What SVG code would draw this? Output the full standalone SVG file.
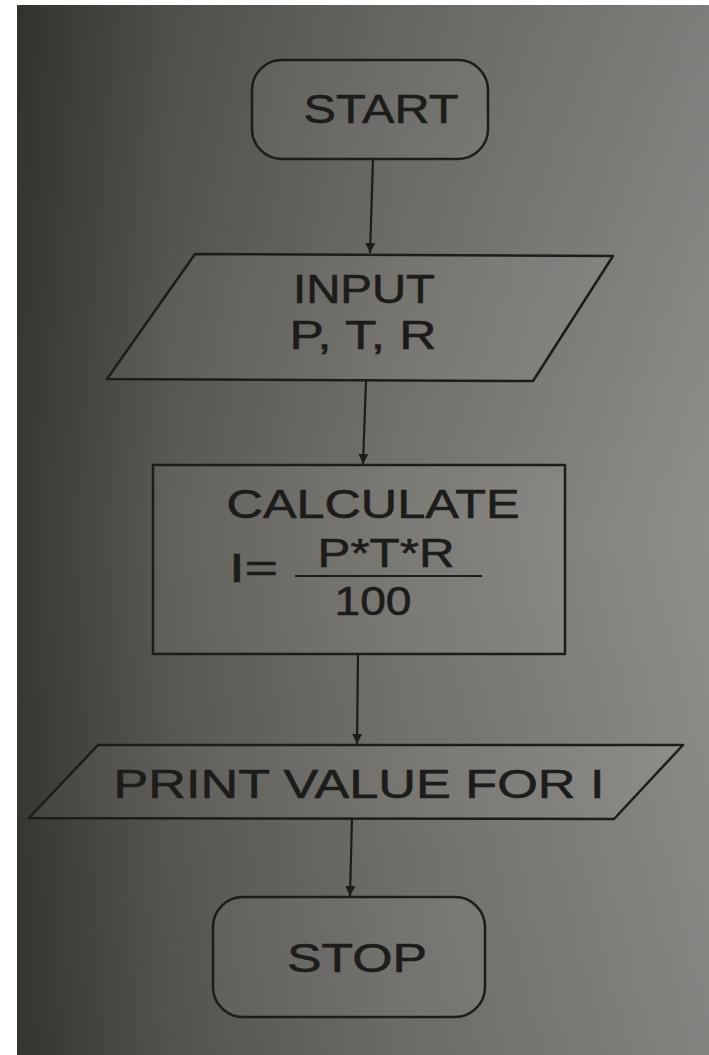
<svg xmlns="http://www.w3.org/2000/svg" width="709" height="1055" viewBox="0 0 709 1055">
  <defs>
    <linearGradient id="page" x1="0" y1="0" x2="1" y2="0">
      <stop offset="0" stop-color="#393933"/>
      <stop offset="0.22" stop-color="#5a5954"/>
      <stop offset="0.55" stop-color="#74736e"/>
      <stop offset="1" stop-color="#908e8b"/>
    </linearGradient>
    <linearGradient id="shade" x1="0" y1="0" x2="0" y2="1">
      <stop offset="0" stop-color="#000" stop-opacity="0.12"/>
      <stop offset="0.5" stop-color="#000" stop-opacity="0"/>
      <stop offset="1" stop-color="#000" stop-opacity="0.08"/>
    </linearGradient>
    <marker id="arrow" viewBox="0 0 10 22" refX="10" refY="11" markerWidth="10" markerHeight="22" markerUnits="userSpaceOnUse" orient="auto">
      <path d="M0,6 L10,11 L0,16 Z" fill="#1c1c1a"/>
    </marker>
    <style>
      .shape { fill: #ffffff; fill-opacity: 0.05; stroke: #1c1c1a; stroke-width: 2.5; stroke-linejoin: round; }
      .label { font-family: "Liberation Sans", Arial, sans-serif; fill: #1c1c1a; stroke: #1c1c1a; stroke-width: 0.6; font-size: 40px; text-anchor: middle; }
      .left { text-anchor: start; }
      .conn { stroke: #1c1c1a; stroke-width: 2.2; fill: none; }
    </style>
  </defs>

  <rect x="0" y="0" width="709" height="1055" fill="#ffffff"/>
  <rect x="17" y="5" width="692" height="1050" fill="url(#page)"/>
  <rect x="17" y="5" width="692" height="1050" fill="url(#shade)"/>

  <g id="connectors">
    <line class="conn" x1="373" y1="159" x2="370" y2="253" marker-end="url(#arrow)"/>
    <line class="conn" x1="366" y1="380" x2="363" y2="464" marker-end="url(#arrow)"/>
    <line class="conn" x1="358" y1="654" x2="357" y2="744" marker-end="url(#arrow)"/>
    <line class="conn" x1="352" y1="818" x2="350" y2="896" marker-end="url(#arrow)"/>
  </g>

  <g id="start">
    <rect class="shape" x="252" y="60" width="236" height="99" rx="30" ry="30"/>
    <text class="label" x="381" y="123" textLength="155" lengthAdjust="spacingAndGlyphs">START</text>
  </g>

  <g id="input">
    <polygon class="shape" points="195,254 613,256 533,381 107,379"/>
    <text class="label" x="364" y="303" textLength="142" lengthAdjust="spacingAndGlyphs">INPUT</text>
    <text class="label" x="363" y="349" textLength="147" lengthAdjust="spacingAndGlyphs">P, T, R</text>
  </g>

  <g id="calculate">
    <rect class="shape" x="153" y="465" width="412" height="189"/>
    <text class="label" x="373" y="518" textLength="293" lengthAdjust="spacingAndGlyphs">CALCULATE</text>
    <text class="label left" x="229" y="582" font-size="38" textLength="49" lengthAdjust="spacingAndGlyphs">I=</text>
    <text class="label" x="386" y="567" font-size="36" textLength="137" lengthAdjust="spacingAndGlyphs">P*T*R</text>
    <line x1="295" y1="576" x2="482" y2="576" stroke="#1c1c1a" stroke-width="2.2"/>
    <text class="label" x="373" y="615" font-size="37" textLength="77" lengthAdjust="spacingAndGlyphs">100</text>
  </g>

  <g id="print">
    <polygon class="shape" points="98,745 683,745 614,819 29,818"/>
    <text class="label" x="359" y="798" font-size="42" textLength="491" lengthAdjust="spacingAndGlyphs">PRINT VALUE FOR I</text>
  </g>

  <g id="stop">
    <rect class="shape" x="213" y="897" width="272" height="120" rx="30" ry="30"/>
    <text class="label" x="357" y="972" font-size="42" textLength="140" lengthAdjust="spacingAndGlyphs">STOP</text>
  </g>
</svg>
